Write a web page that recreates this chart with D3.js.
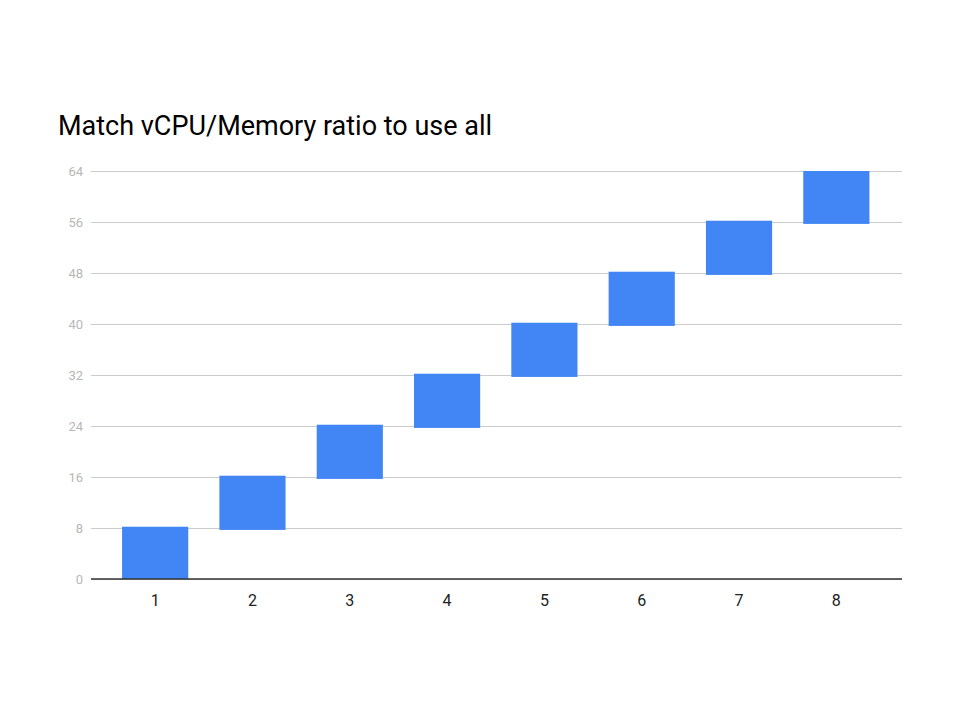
<!DOCTYPE html>
<html><head><meta charset="utf-8">
<script src="https://cdn.jsdelivr.net/npm/d3@7"></script>
<style>body{margin:0;background:#fff;}svg{display:block;font-family:Roboto,sans-serif;}</style>
</head><body>
<script>
const categories = ["1","2","3","4","5","6","7","8"];
const lows  = [0, 7.7, 15.7, 23.7, 31.7, 39.7, 47.7, 55.7];
const highs = [8.2, 16.2, 24.2, 32.2, 40.2, 48.2, 56.2, 64];
const yTicks = [0, 8, 16, 24, 32, 40, 48, 56, 64];
const title = "Match vCPU/Memory ratio to use all";

const W = 960, H = 720;
const plotL = 91, plotR = 902, plotT = 171, plotB = 579;
const svg = d3.select("body").append("svg").attr("width", W).attr("height", H);

const x = d3.scaleBand().domain(categories).range([106.5, 885]).paddingInner(0.32).paddingOuter(0.16);
const y = d3.scaleLinear().domain([0, 64]).range([plotB, plotT]);

svg.append("text").attr("x", 58).attr("y", 135).attr("font-size", 27).attr("fill", "#000").text(title);

// gridlines
const yAxis = d3.axisLeft(y).tickValues(yTicks).tickSize(-(plotR - plotL)).tickPadding(8);
const gy = svg.append("g").attr("transform", `translate(${plotL},0)`).call(yAxis);
gy.select(".domain").remove();
gy.selectAll(".tick line").attr("stroke", "#cccccc").attr("stroke-width", 1);
gy.selectAll(".tick text").attr("fill", "#b7b7b7").attr("font-size", 13).attr("font-family", "Roboto, sans-serif");

const data = categories.map((c, i) => ({c, lo: lows[i], hi: highs[i]}));
svg.append("g").selectAll("rect").data(data).join("rect")
  .attr("x", d => x(d.c))
  .attr("width", x.bandwidth())
  .attr("y", d => y(d.hi))
  .attr("height", d => y(d.lo) - y(d.hi))
  .attr("fill", "#4285f4");

// baseline
svg.append("line").attr("x1", plotL).attr("x2", plotR).attr("y1", y(0)).attr("y2", y(0))
  .attr("stroke", "#333").attr("stroke-width", 1.5);

const xAxis = d3.axisBottom(x).tickSize(0).tickPadding(16);
const gx = svg.append("g").attr("transform", `translate(0,${plotB})`).call(xAxis);
gx.select(".domain").remove();
gx.selectAll(".tick text").attr("fill", "#222").attr("font-size", 16).attr("font-family", "Roboto, sans-serif");
</script>
</body></html>
